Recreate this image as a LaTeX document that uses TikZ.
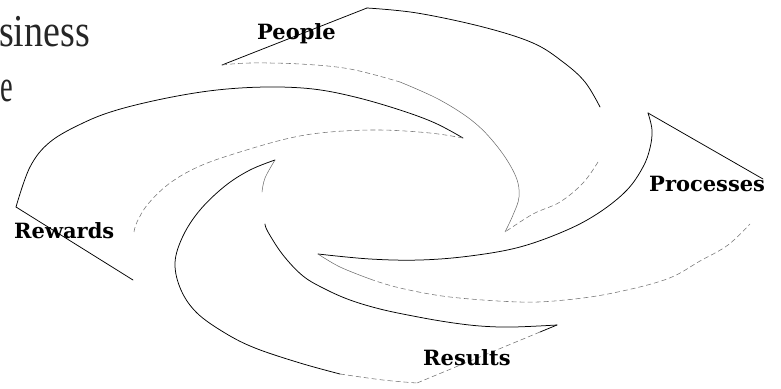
\documentclass[tikz,border=0pt]{standalone}
\usepackage{fontspec}
\setmainfont{Liberation Serif}
\newfontfamily\labelfont{DejaVu Serif}
\begin{document}
\begin{tikzpicture}[x=1pt,y=-1pt,
  solidln/.style={draw=black, line width=0.75pt, line join=round, line cap=round},
  thinln/.style={draw=black!60, line width=0.5pt, line cap=round},
  dashln/.style={draw=black!55, line width=0.55pt, dash pattern=on 5pt off 3pt},
  lbl/.style={font=\labelfont\bfseries\fontsize{21}{24}\selectfont, inner sep=0pt, anchor=base west},
  ttl/.style={font=\fontsize{38}{40}\selectfont, inner sep=0pt, anchor=base west, text=black!85}]
\useasboundingbox (0,0) rectangle (781,388);

% key corners
\coordinate (a1) at (222,65);  \coordinate (a2) at (367,8);   \coordinate (atip) at (505,232);
\coordinate (b1) at (648,113); \coordinate (b2) at (763,179); \coordinate (btip) at (318,254);
\coordinate (c1) at (557,325); \coordinate (c2) at (417,383); \coordinate (ctip) at (275,160);
\coordinate (d1) at (16,207);  \coordinate (d2) at (133,280); \coordinate (dtip) at (463,138);

% title fragments
\node[ttl] (t1) at (-1,46) {\scalebox{1}[1.2]{siness}};
\node[ttl] (t2) at (0.5,101) {\scalebox{0.75}[1.2]{e}};

% ---- blade A (People)
\draw[solidln] (a1) -- (a2);
\draw[solidln] plot[smooth, tension=0.6] coordinates {(a2) (417,13) (483,27) (533,43) (563,62) (585,82) (600,107)};
\draw[dashln] plot[smooth, tension=0.6] coordinates {(598,162) (583,183) (560,202) (533,214) (atip)};
\draw[dashln] plot[smooth, tension=0.6] coordinates {(a1) (250,63) (300,64) (350,69) (400,82)};
\draw[thinln] plot[smooth, tension=0.6] coordinates {(400,82) (440,100) (475,123) (500,150) (516,177) (519,197) (513,215) (atip)};

% ---- blade B (Processes)
\draw[solidln] (b1) -- (b2);
\draw[solidln] plot[smooth, tension=0.6] coordinates {(b1) (652,130) (650,148) (643,167) (627,190) (600,212) (567,230) (520,247) (470,256) (420,260) (370,259) (btip)};
\draw[thinln] plot[smooth, tension=0.6] coordinates {(btip) (340,267) (370,279)};
\draw[dashln] plot[smooth, tension=0.6] coordinates {(370,279) (400,288) (450,297) (520,302) (565,300) (613,293) (667,279) (700,261) (728,245) (750,224)};

% ---- blade C (Results)
\draw[solidln] (c1) -- (540,332);
\draw[dashln] (540,332) -- (c2);
\draw[solidln] plot[smooth, tension=0.6] coordinates {(c1) (513,327) (480,326) (447,322) (413,316) (380,309) (350,300) (325,289) (303,276) (283,255) (268,232) (265,224)};
\draw[thinln] plot[smooth, tension=0.6] coordinates {(262,192) (265,178) (ctip)};
\draw[solidln] plot[smooth, tension=0.6] coordinates {(ctip) (250,170) (225,186) (200,210) (183,236) (175,263) (181,290) (197,313) (225,333) (255,348) (300,363) (340,374)};
\draw[dashln] plot[smooth, tension=0.6] coordinates {(340,374) (383,380) (c2)};

% ---- blade D (Rewards)
\draw[solidln] (d1) -- (d2);
\draw[solidln] plot[smooth, tension=0.6] coordinates {(d1) (30,167) (50,142) (83,123) (117,110) (167,98) (217,90) (267,87) (313,89) (355,97) (400,110) (435,123) (dtip)};
\draw[dashln] plot[smooth, tension=0.6] coordinates {(dtip) (430,133) (380,130) (330,132) (290,138) (240,152) (200,166) (170,183) (148,204) (137,222) (134,232)};

% labels
\node[lbl] (people) at (257,39) {People};
\node[lbl] (processes) at (649,191) {Processes};
\node[lbl] (rewards) at (14,238) {Rewards};
\node[lbl] (results) at (423,365) {Results};
\end{tikzpicture}
\end{document}
